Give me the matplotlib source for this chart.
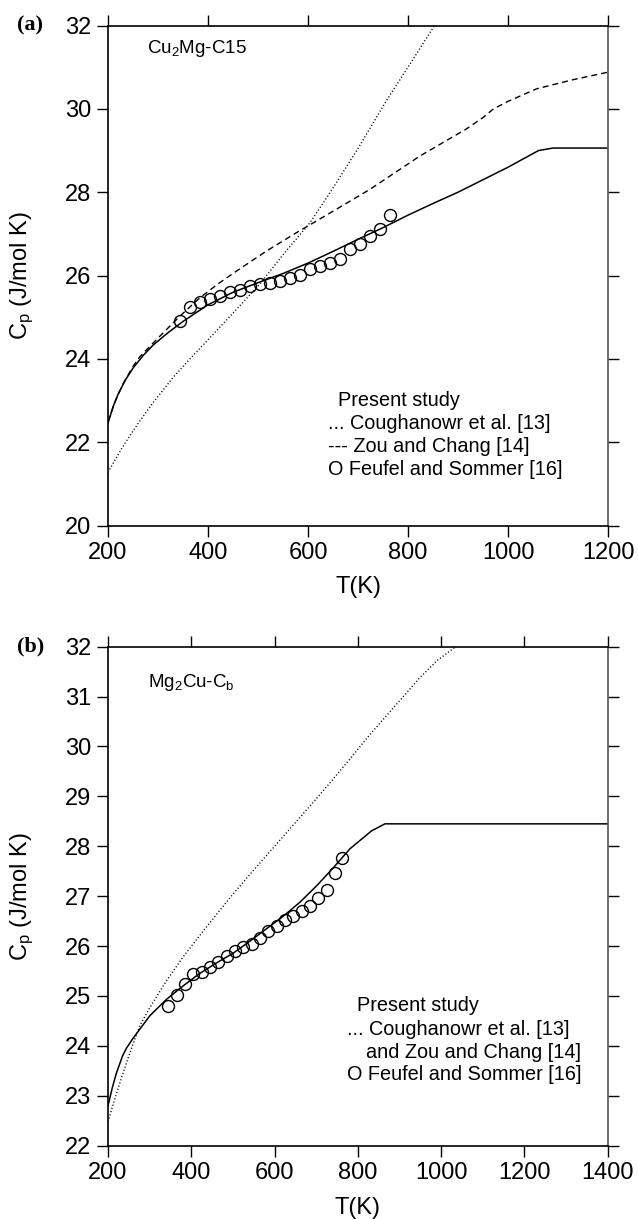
import numpy as np
import matplotlib.pyplot as plt

plt.rcParams['font.family'] = ['Liberation Sans', 'DejaVu Sans']
plt.rcParams['mathtext.default'] = 'regular'

# ---- panel (a): Cu2Mg-C15 ----
a_solid_T = [200, 210, 220, 235, 250, 270, 290, 320, 350, 400, 450, 500, 550, 600, 650,
             700, 750, 800, 850, 900, 950, 1000, 1061, 1090, 1200]
a_solid_cp = [22.46, 22.85, 23.15, 23.5, 23.78, 24.08, 24.33, 24.63, 24.9, 25.3, 25.6, 25.83,
              26.05, 26.3, 26.58, 26.87, 27.15, 27.45, 27.73, 28.0, 28.3, 28.6, 29.0, 29.06, 29.06]

a_dash_T = [200, 215, 230, 250, 264, 304, 344, 384, 420, 451, 517, 577, 624, 724, 824, 917,
            951, 971, 1000, 1057, 1130, 1200]
a_dash_cp = [22.5, 23.0, 23.4, 23.82, 24.06, 24.55, 25.03, 25.47, 25.8, 26.06, 26.59, 27.03,
             27.36, 28.07, 28.87, 29.52, 29.8, 30.0, 30.18, 30.48, 30.7, 30.88]

a_dot_T = [200, 215, 235, 260, 290, 331, 370, 400, 450, 504, 550, 604, 650, 700, 757, 800, 853]
a_dot_cp = [21.28, 21.6, 22.0, 22.45, 22.95, 23.57, 24.08, 24.46, 25.1, 25.8, 26.5, 27.27,
            28.1, 29.05, 30.2, 31.0, 32.0]

a_exp_T = [344, 363, 383, 403, 423, 444, 464, 484, 504, 524, 544, 564, 584, 604, 624, 644,
           663, 683, 703, 723, 744, 764]
a_exp_cp = [24.9, 25.25, 25.36, 25.44, 25.5, 25.6, 25.65, 25.74, 25.81, 25.82, 25.87, 25.94,
            26.02, 26.17, 26.22, 26.3, 26.39, 26.63, 26.75, 26.95, 27.12, 27.45]

# ---- panel (b): Mg2Cu-Cb ----
b_solid_T = [200, 210, 220, 235, 244, 260, 276, 300, 340, 380, 420, 460, 501, 541, 581, 621,
             661, 700, 740, 781, 833, 865, 1400]
b_solid_cp = [22.8, 23.15, 23.45, 23.8, 23.95, 24.15, 24.33, 24.6, 24.93, 25.2, 25.45, 25.66,
              25.86, 26.1, 26.35, 26.6, 26.88, 27.2, 27.56, 27.95, 28.31, 28.45, 28.45]

b_dot_T = [200, 215, 230, 250, 276, 300, 340, 380, 421, 461, 501, 541, 581, 621, 661, 701,
           741, 781, 825, 869, 909, 949, 990, 1035]
b_dot_cp = [22.48, 22.9, 23.3, 23.8, 24.4, 24.76, 25.3, 25.78, 26.22, 26.64, 27.05, 27.44,
            27.82, 28.2, 28.58, 28.96, 29.35, 29.75, 30.2, 30.62, 31.0, 31.38, 31.72, 32.0]

b_exp_T = [345, 365, 385, 405, 425, 445, 465, 485, 505, 525, 545, 565, 585, 605, 625, 645,
           665, 685, 705, 725, 745, 763]
b_exp_cp = [24.8, 25.03, 25.25, 25.45, 25.49, 25.59, 25.69, 25.81, 25.9, 25.98, 26.05, 26.16,
            26.3, 26.41, 26.52, 26.6, 26.7, 26.81, 26.97, 27.13, 27.47, 27.77]

W, H = 638, 1219
fig = plt.figure(figsize=(W / 100, H / 100), dpi=100)
ax_a = fig.add_axes([108 / W, 1 - 525.7 / H, 500 / W, 500.2 / H])
ax_b = fig.add_axes([108 / W, 1 - 1145.7 / H, 499.7 / W, 499 / H])

dash = (0, (4.3, 2.9))
dot = (0, (0.8, 1.6))
legend_fs = 14.3


def style(ax):
    ax.tick_params(direction='out', length=8, width=1, top=True, right=True,
                   labeltop=False, labelright=False, labelsize=17)
    ax.tick_params(axis='y', pad=4)
    ax.tick_params(axis='x', pad=4)
    for sp in ax.spines.values():
        sp.set_linewidth(1.2)
    ax.spines['right'].set_color('#555555')
    for t in ax.yaxis.get_major_ticks():
        t.tick2line.set_color('#555555')
    ax.set_ylabel('C$_p$ (J/mol K)', fontsize=17, va='center')
    ax.yaxis.set_label_coords(-0.172, 0.5)
    ax.set_xlabel('T(K)', fontsize=17, va='center')


# panel (a)
ax_a.plot(a_solid_T, a_solid_cp, color='black', lw=1.1)
ax_a.plot(a_dash_T, a_dash_cp, color='black', lw=1.0, linestyle=dash)
ax_a.plot(a_dot_T, a_dot_cp, color='black', lw=1.0, linestyle=dot)
ax_a.plot(a_exp_T, a_exp_cp, 'o', ms=8.6, mfc='none', mec='black', mew=1.0)
ax_a.set_xlim(200, 1200)
ax_a.set_ylim(20, 32)
ax_a.set_xticks(range(200, 1201, 200))
ax_a.set_yticks(range(20, 33, 2))
style(ax_a)
ax_a.xaxis.set_label_coords(0.5, -0.1226)
ax_a.text(278, 31.45, 'Cu$_2$Mg-C15', fontsize=13.5, va='center')
ax_a.text(659, 23.01, 'Present study', fontsize=legend_fs, va='center')
ax_a.text(639, 22.45, '... Coughanowr et al. [13]', fontsize=legend_fs, va='center')
ax_a.text(639, 21.89, '--- Zou and Chang [14]', fontsize=legend_fs, va='center')
ax_a.text(639, 21.34, 'O Feufel and Sommer [16]', fontsize=legend_fs, va='center')
fig.text(17 / W, 1 - 25.5 / H, '(a)', family='Liberation Serif', weight='bold',
         fontsize=16, va='center', ha='left')

# panel (b)
ax_b.plot(b_solid_T, b_solid_cp, color='black', lw=1.1)
ax_b.plot(b_dot_T, b_dot_cp, color='black', lw=1.0, linestyle=dot)
ax_b.plot(b_exp_T, b_exp_cp, 'o', ms=8.6, mfc='none', mec='black', mew=1.0)
ax_b.set_xlim(200, 1400)
ax_b.set_ylim(22, 32)
ax_b.set_xticks(range(200, 1401, 200))
ax_b.set_yticks(range(22, 33, 1))
style(ax_b)
ax_b.xaxis.set_label_coords(0.5, -0.125)
ax_b.text(296, 31.29, 'Mg$_2$Cu-C$_b$', fontsize=13.5, va='center')
ax_b.text(798, 24.81, 'Present study', fontsize=legend_fs, va='center')
ax_b.text(775, 24.32, '... Coughanowr et al. [13]', fontsize=legend_fs, va='center')
ax_b.text(820, 23.87, 'and Zou and Chang [14]', fontsize=legend_fs, va='center')
ax_b.text(775, 23.43, 'O Feufel and Sommer [16]', fontsize=legend_fs, va='center')
fig.text(17 / W, 1 - 646.7 / H, '(b)', family='Liberation Serif', weight='bold',
         fontsize=16, va='center', ha='left')

fig.savefig('out.png', dpi=100)
